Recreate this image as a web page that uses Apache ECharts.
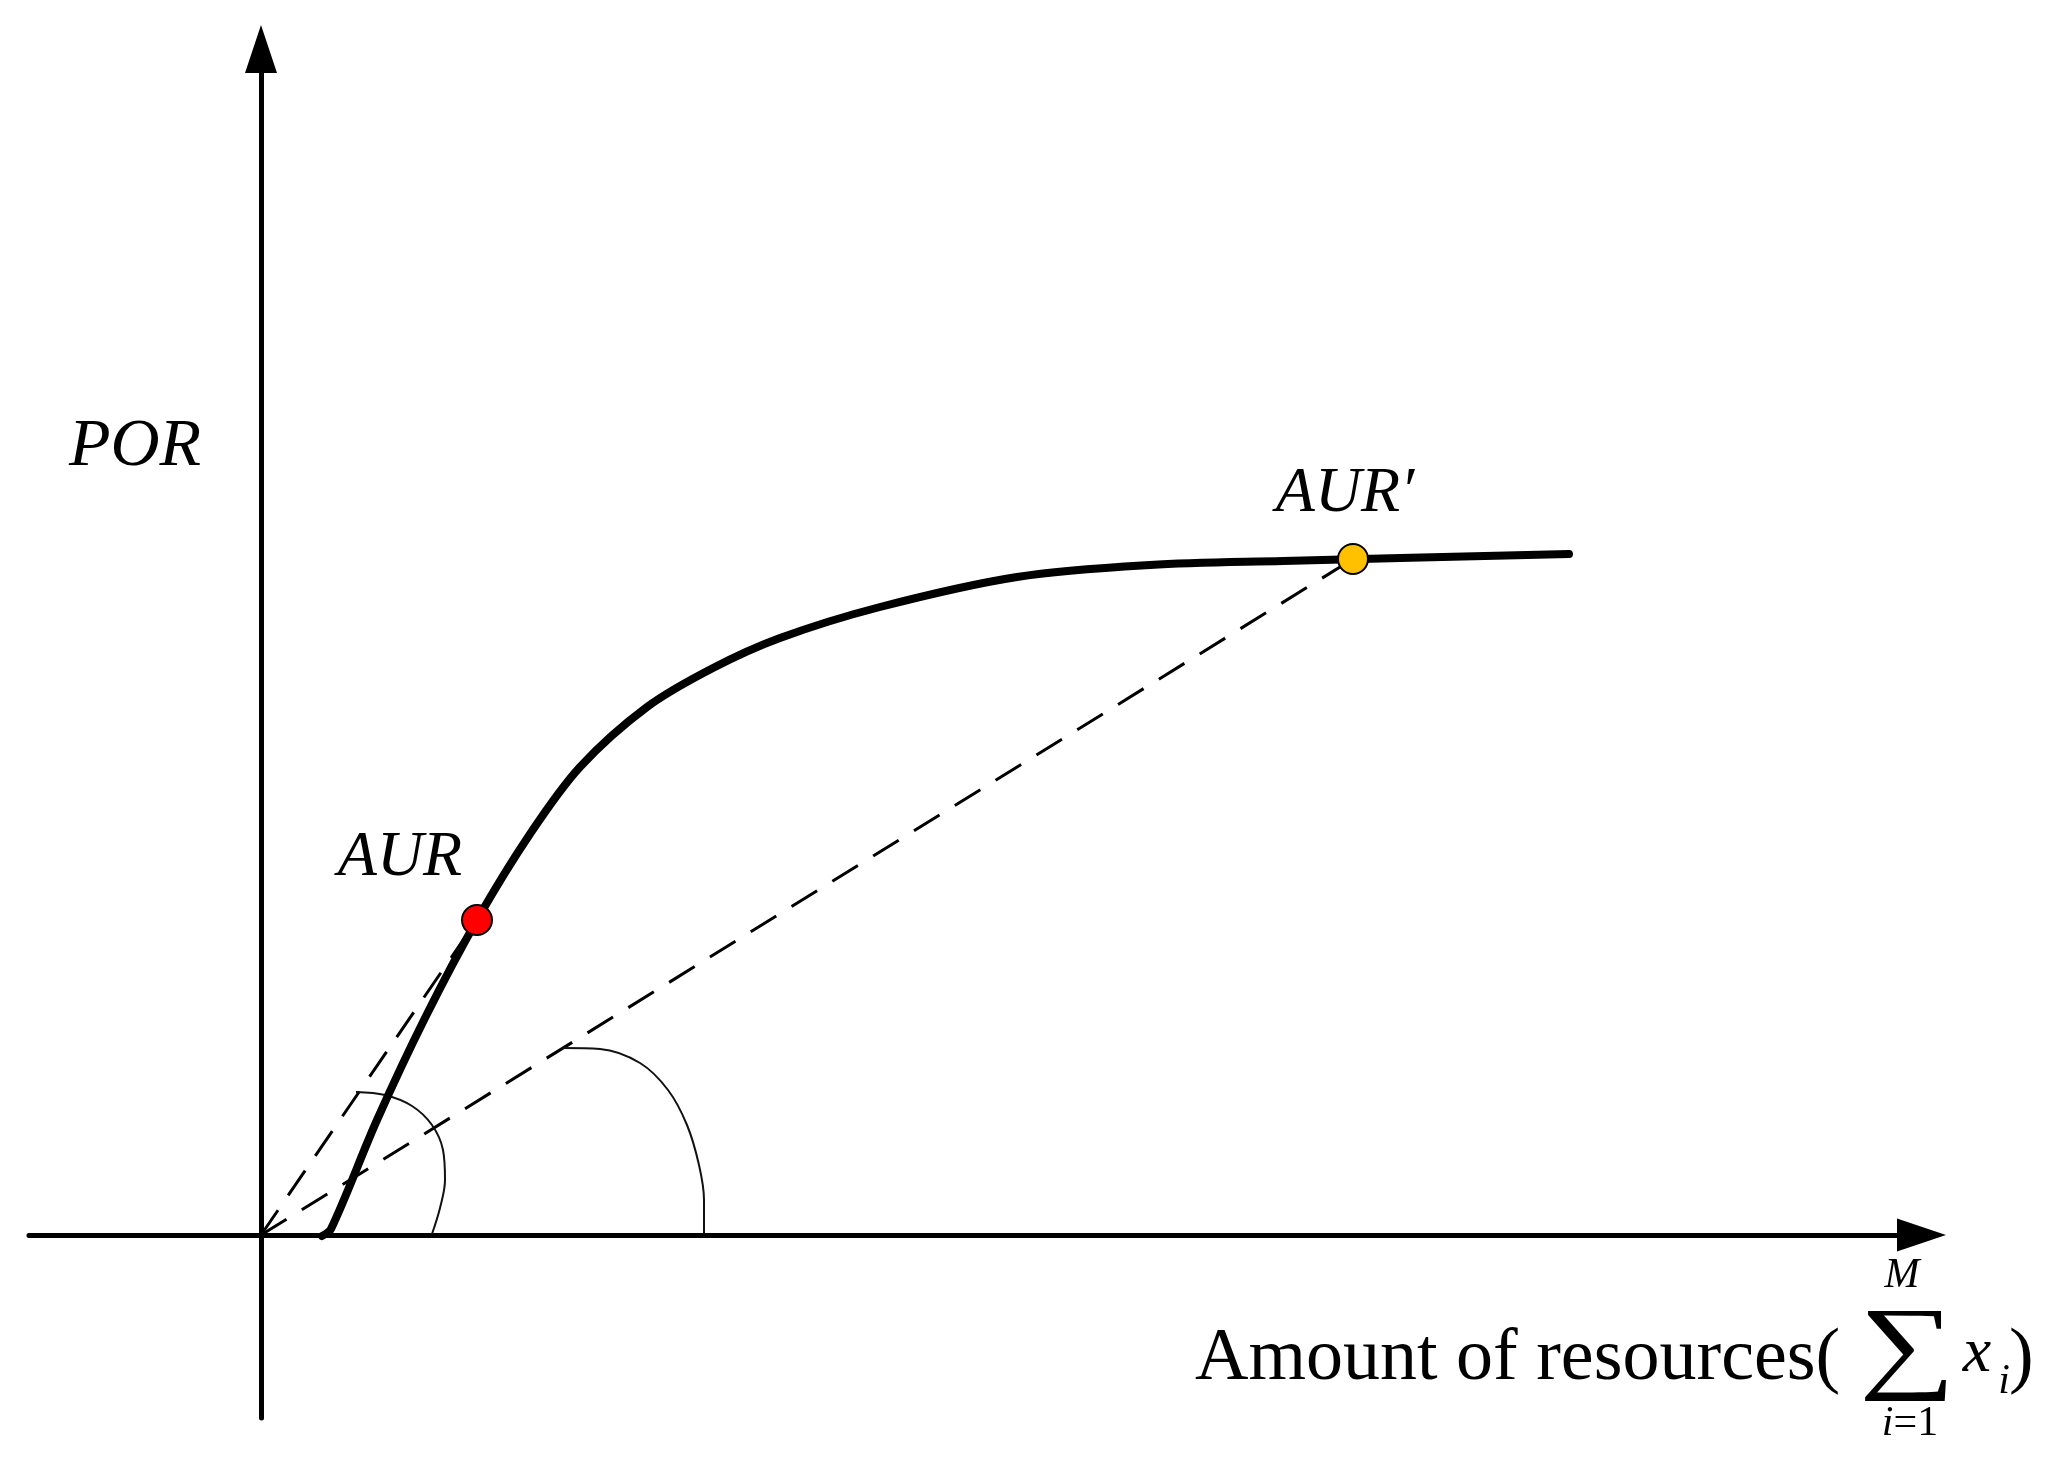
<!DOCTYPE html>
<html>
<head>
<meta charset="utf-8">
<script src="https://cdn.jsdelivr.net/npm/echarts@6.0.0/dist/echarts.min.js"></script>
<style>
html,body{margin:0;padding:0;background:#fff;}
#chart{width:2048px;height:1466px;}
</style>
</head>
<body>
<div id="chart"></div>
<script>
// ---- data (abstract units; origin at axis crossing) ----
const curveX = [6.1, 7.0, 11.6, 16.4, 21.6, 26.9, 31.9, 38.6, 45.2, 51.9, 61.9, 75.6, 88.9, 102.2, 130.8];
const curveY = [-0.1, 0.6, 11.5, 21.7, 31.5, 40.1, 46.8, 52.8, 56.7, 59.7, 62.8, 65.8, 67.0, 67.4, 68.1];

const pointNames = ['AUR', 'AUR\u2032'];
const pointX = [21.6, 109.2];
const pointY = [31.5, 67.6];

const smallArcX = [9.5, 12.4, 15.1, 17.1, 18.2, 18.4, 17.9, 17.1];
const smallArcY = [14.3, 14.0, 12.9, 11.0, 8.5, 5.5, 2.7, 0.1];

const largeArcX = [30.2, 33.9, 37.9, 40.7, 42.6, 43.8, 44.3, 44.3];
const largeArcY = [18.7, 18.6, 17.2, 14.5, 11.0, 7.0, 3.5, 0.1];

const xRange = [-23.2, 166.05];
const yRange = [-18.3, 118.6];

const zip = (a, b) => a.map((v, i) => [v, b[i]]);

const chart = echarts.init(document.getElementById('chart'), null, {renderer: 'canvas'});

const serif = '"Liberation Serif", "Times New Roman", serif';

const option = {
  animation: false,
  backgroundColor: '#ffffff',
  grid: {left: 29, right: 126.5, top: 49, bottom: 48, containLabel: false},
  xAxis: {
    type: 'value', min: xRange[0], max: xRange[1],
    axisLine: {show: true, onZero: true, lineStyle: {color: '#000', width: 5},
      symbol: ['none', 'triangle'], symbolSize: [33, 49]},
    axisTick: {show: false}, axisLabel: {show: false}, splitLine: {show: false}
  },
  yAxis: {
    type: 'value', min: yRange[0], max: yRange[1],
    axisLine: {show: true, onZero: true, lineStyle: {color: '#000', width: 5},
      symbol: ['none', 'triangle'], symbolSize: [32, 48]},
    axisTick: {show: false}, axisLabel: {show: false}, splitLine: {show: false}
  },
  series: [
    {
      type: 'line', data: [[0, 0], [pointX[0], pointY[0]]], symbol: 'none', z: 2,
      lineStyle: {color: '#000', width: 3, type: [30, 18]}
    },
    {
      type: 'line', data: [[0, 0], [pointX[1], pointY[1]]], symbol: 'none', z: 2,
      lineStyle: {color: '#000', width: 3, type: [30, 18]}
    },
    {
      type: 'line', data: zip(smallArcX, smallArcY), symbol: 'none', smooth: 0.35, z: 2,
      lineStyle: {color: '#111', width: 2}
    },
    {
      type: 'line', data: zip(largeArcX, largeArcY), symbol: 'none', smooth: 0.35, z: 2,
      lineStyle: {color: '#111', width: 2}
    },
    {
      type: 'line', data: zip(curveX, curveY), symbol: 'none', smooth: 0.33, z: 3,
      lineStyle: {color: '#000', width: 8, cap: 'round', join: 'round'}
    },
    {
      type: 'scatter', z: 5, symbolSize: 30,
      data: [
        {name: pointNames[0], value: [pointX[0], pointY[0]],
          itemStyle: {color: '#ff0000', borderColor: '#000', borderWidth: 2, opacity: 1},
          label: {offset: [-77, -62]}},
        {name: pointNames[1], value: [pointX[1], pointY[1]],
          itemStyle: {color: '#ffc000', borderColor: '#000', borderWidth: 2, opacity: 1},
          label: {offset: [-8, -65]}}
      ],
      itemStyle: {opacity: 1},
      emphasis: {disabled: true},
      label: {
        show: true, position: 'inside', formatter: '{b}', opacity: 1,
        fontFamily: serif, fontStyle: 'italic', fontSize: 64, color: '#000'
      }
    }
  ],
  graphic: [
    {type: 'text', x: 135, y: 447, style: {text: 'POR', fill: '#000',
      font: 'italic 68px ' + serif, align: 'center', verticalAlign: 'middle', textAlign: 'center', textVerticalAlign: 'middle'}},
    {type: 'text', x: 1195, y: 1360, style: {text: 'Amount of resources(', fill: '#000',
      font: '74px ' + serif, align: 'left', verticalAlign: 'middle', textAlign: 'left', textVerticalAlign: 'middle'}},
    {type: 'text', x: 1907, y: 1352, scaleX: 1.3, style: {text: '\u2211', fill: '#000',
      font: '104px ' + serif, align: 'center', verticalAlign: 'middle', textAlign: 'center', textVerticalAlign: 'middle'}},
    {type: 'text', x: 1902, y: 1276, style: {text: 'M', fill: '#000',
      font: 'italic 42px ' + serif, align: 'center', verticalAlign: 'middle', textAlign: 'center', textVerticalAlign: 'middle'}},
    {type: 'text', x: 1910, y: 1424, style: {text: '{a|i}{b|=1}', fill: '#000',
      align: 'center', verticalAlign: 'middle', textAlign: 'center', textVerticalAlign: 'middle',
      rich: {a: {font: 'italic 42px ' + serif, fill: '#000', color: '#000'}, b: {font: '42px ' + serif, fill: '#000', color: '#000'}}}},
    {type: 'text', x: 1977, y: 1354, style: {text: 'x', fill: '#000',
      font: 'italic 64px ' + serif, align: 'center', verticalAlign: 'middle', textAlign: 'center', textVerticalAlign: 'middle'}},
    {type: 'text', x: 2004, y: 1382, style: {text: 'i', fill: '#000',
      font: 'italic 42px ' + serif, align: 'center', verticalAlign: 'middle', textAlign: 'center', textVerticalAlign: 'middle'}},
    {type: 'text', x: 2009, y: 1360, style: {text: ')', fill: '#000',
      font: '74px ' + serif, align: 'left', verticalAlign: 'middle', textAlign: 'left', textVerticalAlign: 'middle'}}
  ]
};
chart.setOption(option);
</script>
</body>
</html>
